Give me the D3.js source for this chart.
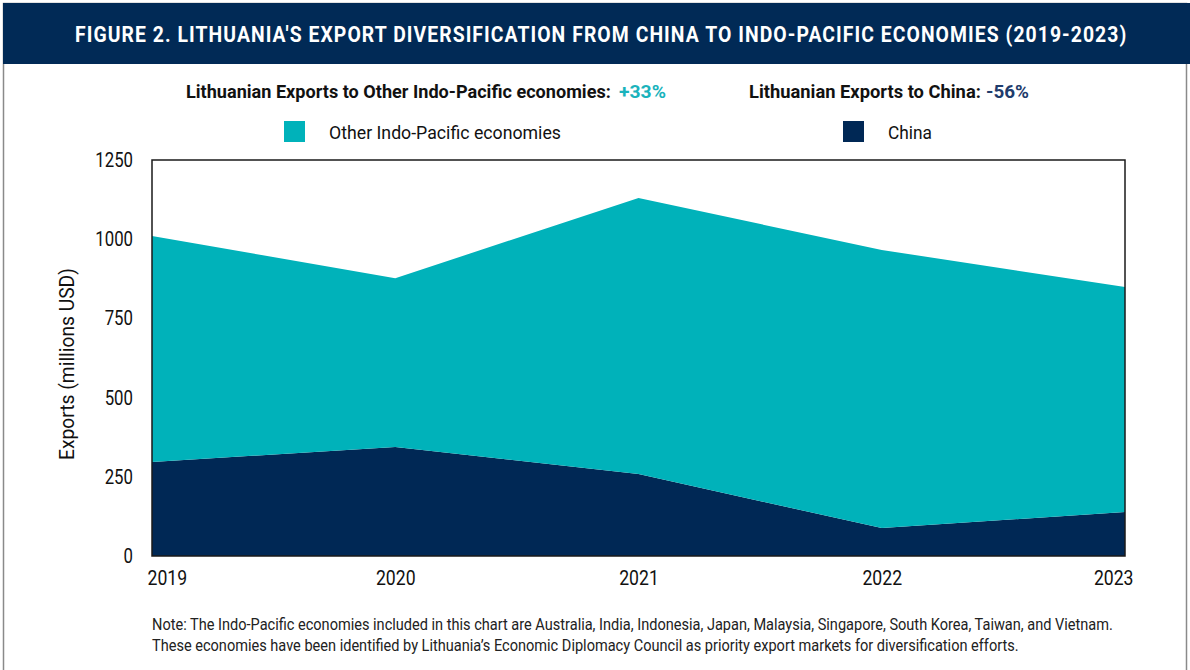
<!DOCTYPE html>
<html>
<head>
<meta charset="utf-8">
<script src="https://cdn.jsdelivr.net/npm/d3@7"></script>
<style>
  body { margin: 0; background: #fff; }
  text { font-family: Roboto, "Liberation Sans", sans-serif; }
</style>
</head>
<body>
<div id="chart"></div>
<script>
// data (millions USD)
const years = [2019, 2020, 2021, 2022, 2023];
const chinaExports = [297, 344, 259, 88, 139];
const otherExports = [713, 533, 871, 878, 710];
const yTicks = [0, 250, 500, 750, 1000, 1250];
const seriesNames = ["China", "Other Indo-Pacific economies"];

const W = 1190, H = 670;
const margin = {top: 160, left: 152, right: 65, bottom: 114};
const width = W - margin.left - margin.right;
const height = H - margin.top - margin.bottom;

const navy = "#002855", teal = "#00b2ba";
const condensed = 0.84; // roughly how narrow the reference face is vs Roboto

const svg = d3.select("#chart").append("svg")
  .attr("width", W)
  .attr("height", H);

// squeeze a text horizontally so it is targetLen wide (the reference uses a condensed face)
function squeeze(t, x0, y0, targetLen, extra) {
  const len = t.node().getComputedTextLength();
  const k = targetLen / len;
  t.attr("x", 0).attr("y", 0)
   .attr("transform", "translate(" + x0 + "," + y0 + ")" + (extra || "") + " scale(" + k + ",1)");
  return k;
}

// outer frame + header band
svg.append("rect")
  .attr("x", 3.5).attr("y", 3.5).attr("width", W - 7).attr("height", H + 10)
  .attr("fill", "none").attr("stroke", "#8a8a8a").attr("stroke-width", 1.5);
svg.append("rect")
  .attr("x", 3).attr("y", 3).attr("width", W - 3).attr("height", 61)
  .attr("fill", "#012a56");
const title = svg.append("text")
  .attr("fill", "#fff").attr("font-size", 22).attr("font-weight", "bold")
  .attr("letter-spacing", 1.2)
  .text("FIGURE 2. LITHUANIA'S EXPORT DIVERSIFICATION FROM CHINA TO INDO-PACIFIC ECONOMIES (2019-2023)");
squeeze(title, 75, 42, 1053);

// subtitle line with the % changes
const subtitle = [
  {x: 186, len: 425, text: "Lithuanian Exports to Other Indo-Pacific economies:", color: "#111"},
  {x: 619, len: 47, text: "+33%", color: "#1ab3bc"},
  {x: 749, len: 232, text: "Lithuanian Exports to China:", color: "#111"},
  {x: 986, len: 43, text: "-56%", color: "#1f3c6c"}
];
subtitle.forEach(s => {
  const t = svg.append("text")
    .attr("font-size", 18.5).attr("font-weight", "bold")
    .attr("fill", s.color)
    .text(s.text);
  squeeze(t, s.x, 97.5, s.len);
});

// legend
const legend = [
  {name: seriesNames[1], color: teal, x: 284, len: 232},
  {name: seriesNames[0], color: navy, x: 843, len: 44}
];
legend.forEach(l => {
  svg.append("rect")
    .attr("x", l.x).attr("y", 121).attr("width", 21).attr("height", 21)
    .attr("fill", l.color);
  const t = svg.append("text")
    .attr("font-size", 18.5).attr("fill", "#111")
    .text(l.name);
  squeeze(t, l.x + 45, 138.5, l.len);
});

const g = svg.append("g").attr("transform", "translate(" + margin.left + "," + margin.top + ")");

const x = d3.scaleLinear().domain([years[0], years[years.length - 1]]).range([0, width]);
const y = d3.scaleLinear().domain([0, 1250]).range([height, 0]);

const rows = years.map((yr, i) => ({year: yr, China: chinaExports[i], Other: otherExports[i]}));
const stacked = d3.stack().keys(["China", "Other"])(rows);

const area = d3.area()
  .x(d => x(d.data.year))
  .y0(d => y(d[0]))
  .y1(d => y(d[1]));

g.selectAll(".layer").data(stacked).enter().append("path")
  .attr("d", area)
  .attr("fill", d => d.key == "China" ? navy : teal);

// plot frame
g.append("rect")
  .attr("width", width).attr("height", height)
  .attr("fill", "none").attr("stroke", "#1a1a1a").attr("stroke-width", 1.5);

// y axis
const yAxis = g.append("g")
  .call(d3.axisLeft(y).tickValues(yTicks).tickFormat(d3.format("d")).tickSize(0).tickPadding(19));
yAxis.select(".domain").remove();
yAxis.selectAll("text")
  .attr("font-size", 20).attr("fill", "#111")
  .style("font-family", "Roboto, 'Liberation Sans', sans-serif")
  .attr("x", 0)
  .attr("transform", "translate(-19,0) scale(" + condensed + ",1)");

// x axis
const xAxis = g.append("g")
  .attr("transform", "translate(0," + height + ")")
  .call(d3.axisBottom(x).tickValues(years).tickFormat(d3.format("d")).tickSize(0).tickPadding(14));
xAxis.select(".domain").remove();
xAxis.selectAll("text")
  .attr("font-size", 21).attr("fill", "#111")
  .style("font-family", "Roboto, 'Liberation Sans', sans-serif")
  .attr("text-anchor", (d, i) => i == 0 ? "start" : (i == years.length - 1 ? "end" : "middle"))
  .attr("transform", (d, i) => "translate(" + (i == 0 ? -5 : (i == years.length - 1 ? 8 : 0)) + ",0) scale(" + condensed + ",1)");

// y axis title
const yTitle = svg.append("text")
  .attr("text-anchor", "middle")
  .attr("font-size", 20).attr("fill", "#111")
  .text("Exports (millions USD)");
squeeze(yTitle, 74, 364, 192, " rotate(-90)");

// note
const noteLines = [
  "Note: The Indo-Pacific economies included in this chart are Australia, India, Indonesia, Japan, Malaysia, Singapore, South Korea, Taiwan, and Vietnam.",
  "These economies have been identified by Lithuania\u2019s Economic Diplomacy Council as priority export markets for diversification efforts."
];
const note1 = svg.append("text").attr("font-size", 16).attr("fill", "#222").text(noteLines[0]);
const k = squeeze(note1, 152, 630, 962);
const note2 = svg.append("text").attr("font-size", 16).attr("fill", "#222").text(noteLines[1]);
note2.attr("transform", "translate(152,651) scale(" + k + ",1)");
</script>
</body>
</html>
